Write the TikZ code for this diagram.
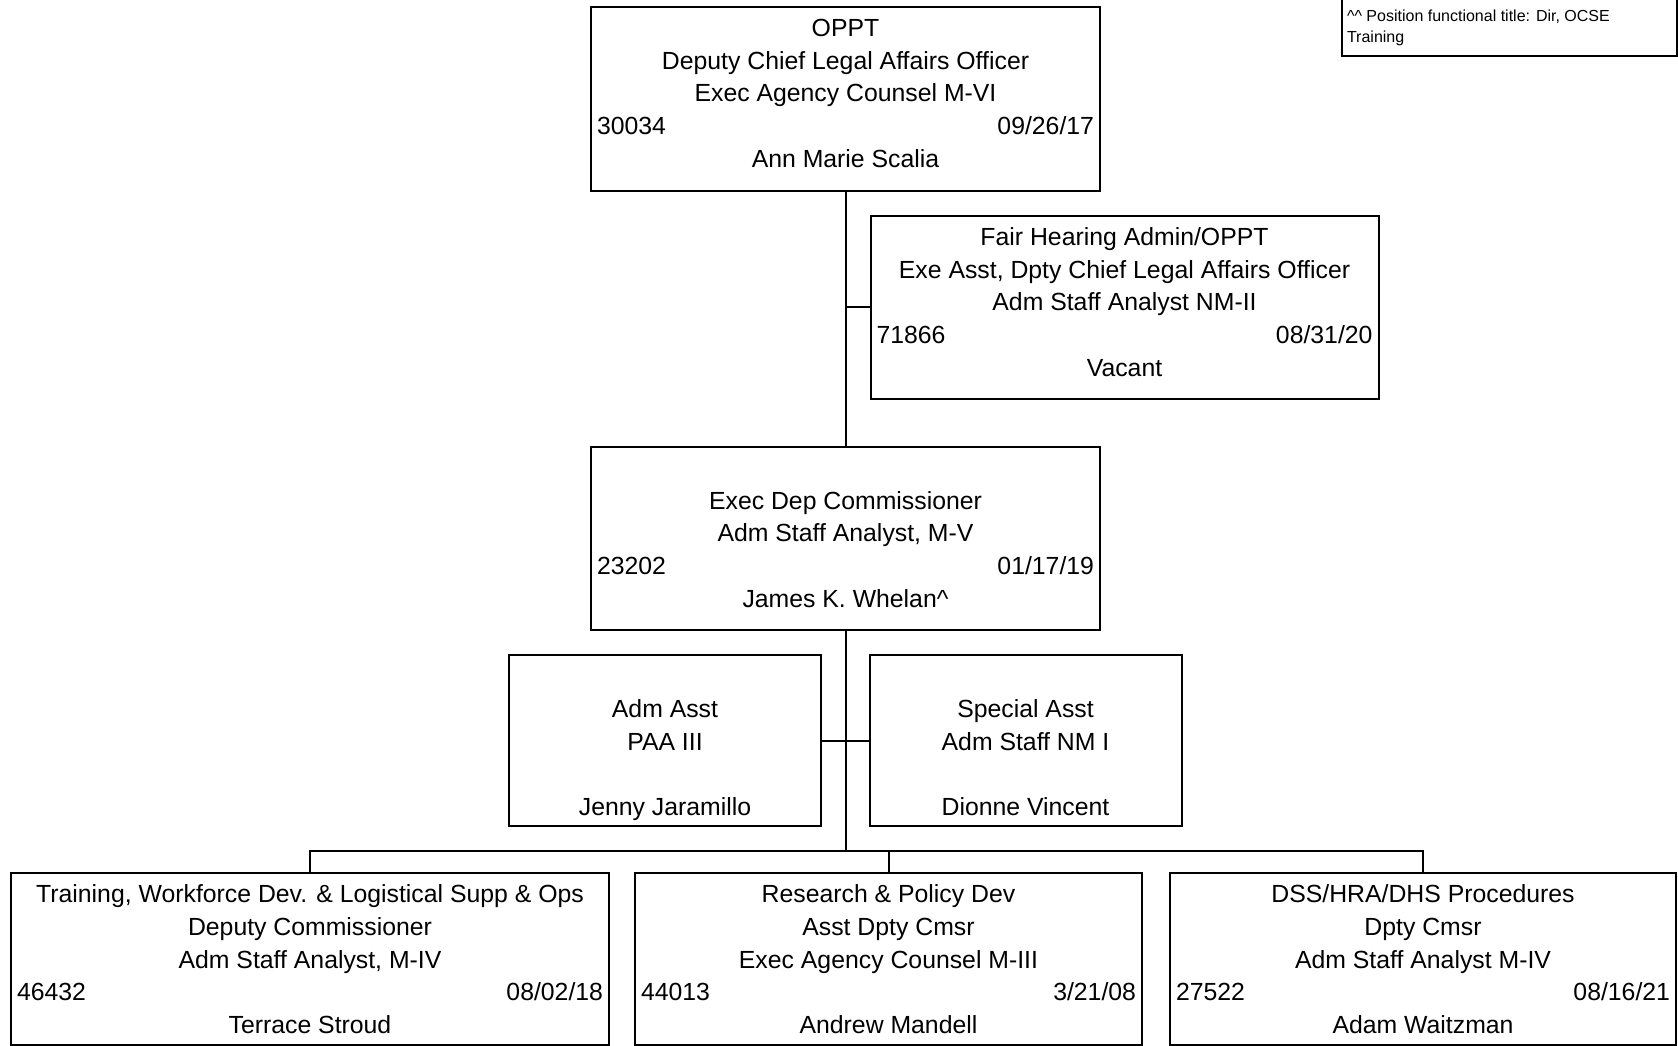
\documentclass[tikz,border=0pt]{standalone}
\usepackage{fontspec}
\setmainfont{Liberation Sans}
\usetikzlibrary{positioning}

% one pixel of the chart
\newlength\pxu
\setlength\pxu{0.75pt}
% text block of a position box: width, height, rows
\newcommand\postext[3]{\parbox[c][#2\pxu][t]{#1\pxu}{\centering\vspace*{5.3pt}\strut#3}}
% pushes the number left and the date right
\newcommand\spread{\hskip 0pt plus 1filll\relax}

\begin{document}
\begin{tikzpicture}[
    x=0.75pt, y=-0.75pt,
    line width=1.5pt,
    % Style for the position boxes
    posbox/.style={
        draw, inner xsep=4.5pt, inner ysep=0pt,
        font=\fontsize{18.6}{24.5}\selectfont
    },
    % Style for the footnote box
    notebox/.style={
        draw, inner xsep=4pt, inner ysep=5.8pt,
        font=\fontsize{12}{15.2}\selectfont
    }
]
\clip (0,0) rectangle (1678,1046);

% --- Footnote (top right, cut at the edge) ---
\node[notebox, anchor=south west] (note) at (1340.7,57)
    {\parbox[c][60pt][b]{243.75pt}{\raggedright
     \textasciicircum\textasciicircum{} Position functional title: Dir, OCSE\\Training\strut}};

% --- Top level ---
\node[posbox] (oppt) at (845.5,98.5)
    {\postext{497}{184}{OPPT\\Deputy Chief Legal Affairs Officer\\Exec Agency Counsel M-VI\\30034\spread 09/26/17\\Ann Marie Scalia}};

% --- Staff position beside the trunk ---
\node[posbox] (fair) at (1124.5,307)
    {\postext{496}{183}{Fair Hearing Admin/OPPT\\Exe Asst, Dpty Chief Legal Affairs Officer\\Adm Staff Analyst NM-II\\71866\spread 08/31/20\\Vacant}};

% --- Second level ---
\node[posbox] (exec) at (845.5,538)
    {\postext{497}{183}{\mbox{}\\Exec Dep Commissioner\\Adm Staff Analyst, M-V\\23202\spread 01/17/19\\James K. Whelan\textasciicircum}};

% --- Assistants ---
\node[posbox] (admasst) at (665,740.5)
    {\postext{300}{171}{\mbox{}\\Adm Asst\\PAA III\\\mbox{}\\Jenny Jaramillo}};
\node[posbox] (special) at (1025.5,740.5)
    {\postext{300}{171}{\mbox{}\\Special Asst\\Adm Staff NM I\\\mbox{}\\Dionne Vincent}};

% --- Third level ---
\node[posbox] (train) at (310,959)
    {\postext{586}{172}{Training, Workforce Dev. \& Logistical Supp \& Ops\\Deputy Commissioner\\Adm Staff Analyst, M-IV\\46432\spread 08/02/18\\Terrace Stroud}};
\node[posbox] (research) at (888.5,959)
    {\postext{495}{172}{Research \& Policy Dev\\Asst Dpty Cmsr\\Exec Agency Counsel M-III\\44013\spread 3/21/08\\Andrew Mandell}};
\node[posbox] (dss) at (1423,959)
    {\postext{494}{172}{DSS/HRA/DHS Procedures\\Dpty Cmsr\\Adm Staff Analyst M-IV\\27522\spread 08/16/21\\Adam Waitzman}};

% --- Connectors ---
\coordinate (bus) at (0,851);
\draw (oppt.south) -- (exec.north);
\draw (fair.west) -- (fair.west -| oppt.south);
\draw (admasst.east) -- (special.west);
\draw (exec.south) -- (exec.south |- bus);
\draw (train.north) |- (bus -| research.north) -| (dss.north);
\draw (research.north) -- (research.north |- bus);

\end{tikzpicture}
\end{document}
